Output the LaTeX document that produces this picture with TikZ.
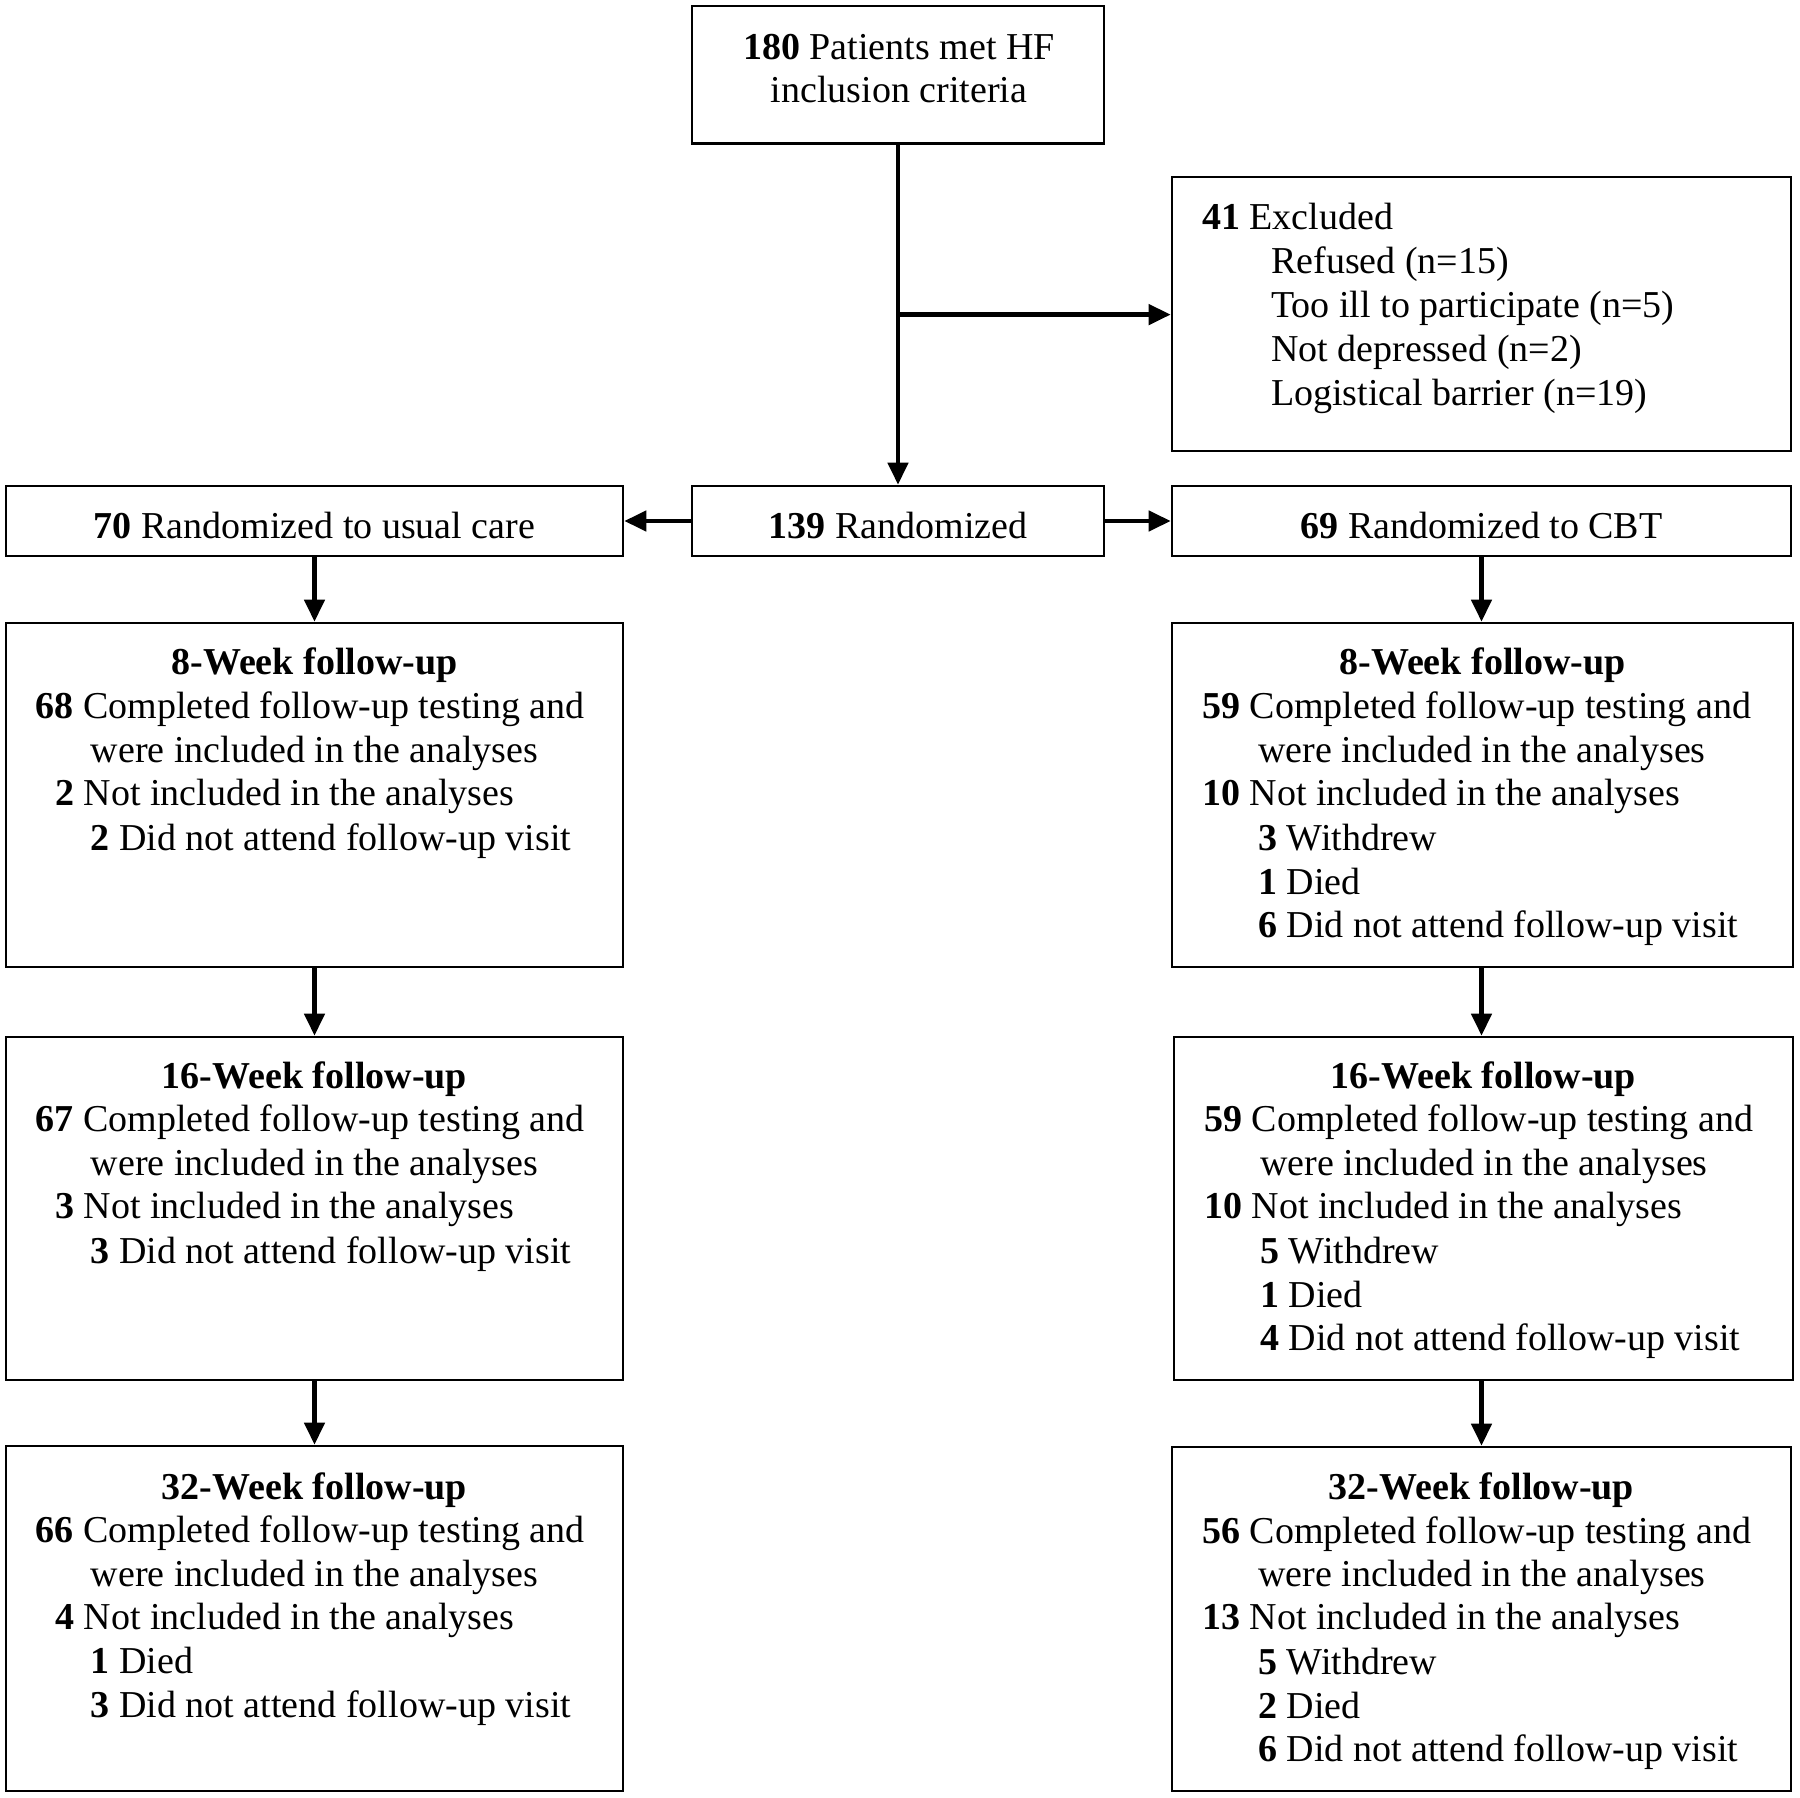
\documentclass[tikz,border=0pt]{standalone}
\usepackage{fontspec}
\setmainfont{Liberation Serif}
\usetikzlibrary{arrows.meta,fit}
\begin{document}
\begin{tikzpicture}[x=1pt,y=-1pt,
  box/.style={draw, line width=2.6pt, inner sep=0pt},
  conn/.style={line width=4.5pt, -{Triangle[length=22pt,width=20pt]}},
  txt/.style={font=\fontsize{38}{44}\selectfont, inner sep=0pt, text height=0.7em, text depth=0.2em, yshift=-11pt},
]
\useasboundingbox[fill=white] (0,0) rectangle (1800,1798);
% boxes
\node[box, fit={(692,6) (1104,143.5)}] (top) {};
\node[box, fit={(1172,177) (1791,451)}] (excl) {};
\node[box, fit={(6,486) (623,556)}] (usual) {};
\node[box, fit={(692,486) (1104,556)}] (rand) {};
\node[box, fit={(1172,486) (1791,556)}] (cbt) {};
\node[box, fit={(6,623) (623,967)}] (L8) {};
\node[box, fit={(1172,623) (1793,967)}] (R8) {};
\node[box, fit={(6,1037) (623,1380)}] (L16) {};
\node[box, fit={(1174,1037) (1793,1380)}] (R16) {};
\node[box, fit={(6,1446) (623,1791)}] (L32) {};
\node[box, fit={(1172,1447) (1791,1791)}] (R32) {};
% connectors
\draw[conn] (top.south) -- (rand.north);
\coordinate (br) at (898,314.6);
\draw[conn] (br) -- (excl.west |- br);
\draw[conn] (rand.west) -- (usual.east);
\draw[conn] (rand.east) -- (cbt.west);
\draw[conn] (usual.south) -- (L8.north);
\draw[conn] (L8.south) -- (L16.north);
\draw[conn] (L16.south) -- (L32.north);
\draw[conn] (cbt.south) -- (cbt.south |- R8.north);
\draw[conn] (cbt.south |- R8.south) -- (cbt.south |- R16.north);
\draw[conn] (cbt.south |- R16.south) -- (cbt.south |- R32.north);
% centred texts
\foreach \x/\y/\t [count=\i] in {
  899/46/{\textbf{180} Patients met HF},
  899/89.5/{inclusion criteria},
  314.5/524.6/{\textbf{70} Randomized to usual care},
  898/524.6/{\textbf{139} Randomized},
  1481.5/524.6/{\textbf{69} Randomized to CBT},
  314.5/661/{\textbf{8-Week follow-up}},
  1482.5/661/{\textbf{8-Week follow-up}},
  314.5/1074.5/{\textbf{16-Week follow-up}},
  1483.5/1074.5/{\textbf{16-Week follow-up}},
  314.5/1485.5/{\textbf{32-Week follow-up}},
  1481.5/1485.5/{\textbf{32-Week follow-up}}}
  {\node[txt] (c\i) at (\x,\y) {\t};}
% left-aligned texts
\foreach \x/\y/\t [count=\i] in {
  1202/216/{\textbf{41} Excluded},
  1271/259.5/{Refused (n=15)},
  1271/304/{Too ill to participate (n=5)},
  1271/348/{Not depressed (n=2)},
  1271/391.5/{Logistical barrier (n=19)},
  35.6/705/{\textbf{68} Completed follow-up testing and},
  90.7/748.5/{were included in the analyses},
  55/792.3/{\textbf{2} Not included in the analyses},
  90.7/836.7/{\textbf{2} Did not attend follow-up visit},
  1202/705/{\textbf{59} Completed follow-up testing and},
  1258/748.5/{were included in the analyses},
  1202/792.3/{\textbf{10} Not included in the analyses},
  1258/836.7/{\textbf{3} Withdrew},
  1258/880.5/{\textbf{1} Died},
  1258/924.1/{\textbf{6} Did not attend follow-up visit},
  35.6/1118.2/{\textbf{67} Completed follow-up testing and},
  90.7/1161.8/{were included in the analyses},
  55/1205.4/{\textbf{3} Not included in the analyses},
  90.7/1250.2/{\textbf{3} Did not attend follow-up visit},
  1204/1118.2/{\textbf{59} Completed follow-up testing and},
  1260/1161.8/{were included in the analyses},
  1204/1205.4/{\textbf{10} Not included in the analyses},
  1260/1250.2/{\textbf{5} Withdrew},
  1260/1293.8/{\textbf{1} Died},
  1260/1337.4/{\textbf{4} Did not attend follow-up visit},
  35.6/1529.1/{\textbf{66} Completed follow-up testing and},
  90.7/1572.8/{were included in the analyses},
  55/1616.4/{\textbf{4} Not included in the analyses},
  90.7/1660/{\textbf{1} Died},
  90.7/1703.6/{\textbf{3} Did not attend follow-up visit},
  1202/1530.3/{\textbf{56} Completed follow-up testing and},
  1258/1572.8/{were included in the analyses},
  1202/1616.4/{\textbf{13} Not included in the analyses},
  1258/1661/{\textbf{5} Withdrew},
  1258/1704.8/{\textbf{2} Died},
  1258/1748.4/{\textbf{6} Did not attend follow-up visit}}
  {\node[txt, anchor=west] (t\i) at (\x,\y) {\t};}
\end{tikzpicture}
\end{document}
